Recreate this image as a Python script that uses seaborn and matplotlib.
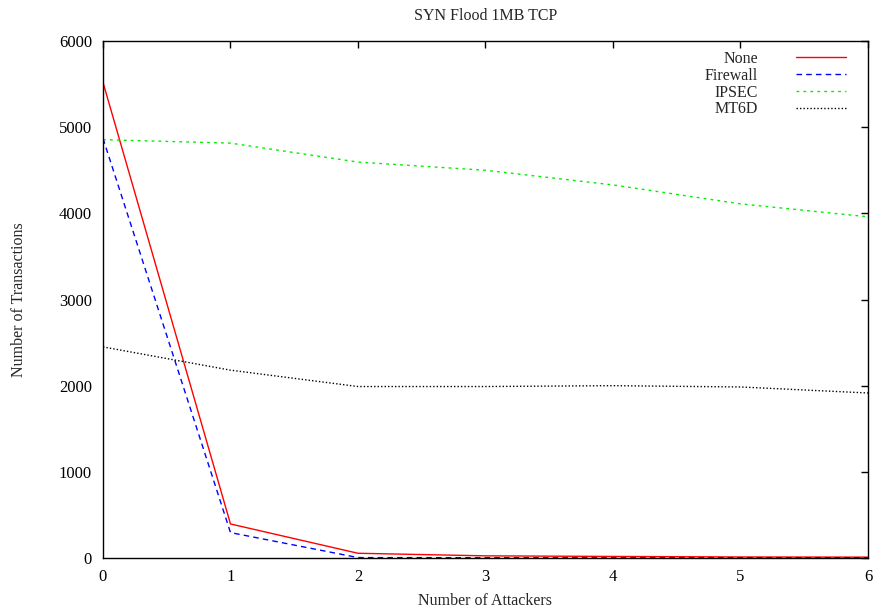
import matplotlib
matplotlib.use("Agg")
import matplotlib.pyplot as plt
import pandas as pd
import seaborn as sns

attackers = [0, 1, 2, 3, 4, 5, 6]
none_vals = [5520, 395, 55, 25, 18, 12, 10]
firewall_vals = [4870, 295, 5, 3, 3, 3, 3]
ipsec_vals = [4855, 4815, 4595, 4500, 4330, 4110, 3960]
mt6d_vals = [2450, 2180, 1990, 1990, 2000, 1985, 1915]

series = ["None", "Firewall", "IPSEC", "MT6D"]
colors = ["#ff0000", "#0000ff", "#00ee00", "#000000"]
dashes = [(None, None), (4, 3), (2, 3), (1, 1.5)]


def build_frame():
    df = pd.DataFrame({
        "attackers": attackers,
        "None": none_vals,
        "Firewall": firewall_vals,
        "IPSEC": ipsec_vals,
        "MT6D": mt6d_vals,
    })
    return pd.melt(df, id_vars=["attackers"], value_vars=series,
                   var_name="config", value_name="transactions")


def plot_data(df):
    sns.set_theme(style="white")
    plt.rcParams["font.family"] = ["Liberation Serif", "DejaVu Serif"]
    fig = plt.figure(figsize=(8.75, 6.14), dpi=100)
    ax = fig.add_axes([0.1177, 0.0912, 0.8743, 0.842])

    for name, color, dash in zip(series, colors, dashes):
        sub = df[df["config"] == name]
        line, = ax.plot(sub["attackers"], sub["transactions"], color=color,
                        linewidth=1, label=name)
        if dash[0] is not None:
            line.set_dashes(dash)

    ax.set_xlim(0, 6)
    ax.set_ylim(0, 6000)
    ax.set_xticks(attackers)
    ax.set_yticks([0, 1000, 2000, 3000, 4000, 5000, 6000])
    ax.tick_params(direction="in", length=5, width=1, top=True, right=True,
                   labelsize=12, colors="black", pad=8)
    for spine in ax.spines.values():
        spine.set_color("black")
        spine.set_linewidth(1)

    ax.set_title("SYN Flood 1MB TCP", fontsize=11.5, pad=15)
    ax.set_xlabel("Number of Attackers", fontsize=11.5, labelpad=6)
    ax.set_ylabel("Number of Transactions", fontsize=11.5, labelpad=23)

    ax.legend(loc="upper right", frameon=False, markerfirst=False,
              fontsize=11.5, handlelength=3.1, labelspacing=0.05,
              borderaxespad=1.0, handletextpad=2.4,
              bbox_to_anchor=(1.0, 1.024))

    fig.savefig("out.png", dpi=100)


def main():
    plot_data(build_frame())


if __name__ == "__main__":
    main()
